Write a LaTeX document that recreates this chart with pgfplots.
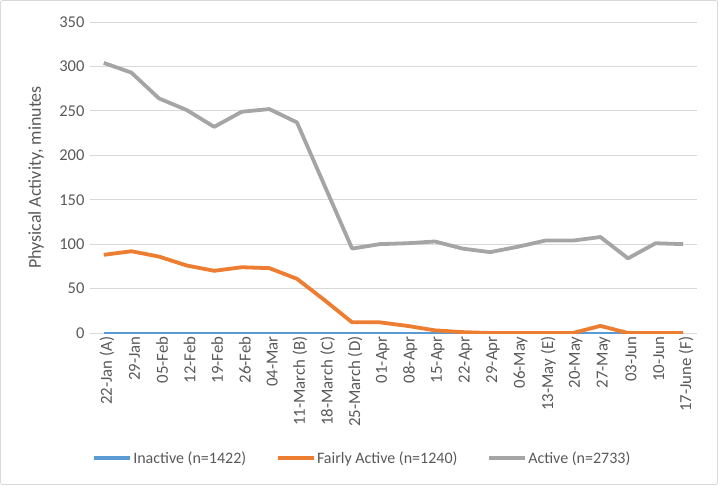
\documentclass[border=0pt]{standalone}
\usepackage{pgfplots}
\pgfplotsset{compat=1.18}
\usepackage{fontspec}
\setmainfont{Carlito}
\definecolor{xblue}{HTML}{5B9BD5}
\definecolor{xorange}{HTML}{ED7D31}
\definecolor{xgray}{HTML}{A5A5A5}
\definecolor{xtext}{HTML}{595959}
\definecolor{xgrid}{HTML}{D9D9D9}
\begin{document}
\begin{tikzpicture}
\path[use as bounding box] (0,0) rectangle (718pt,485pt);
\draw[draw=black!15, line width=0.8pt, rounded corners=2pt] (0.5pt,0.5pt) rectangle (717.5pt,484.5pt);
\begin{axis}[
  at={(90pt,152pt)}, anchor=south west,
  scale only axis, width=607pt, height=311pt,
  xmin=-0.5, xmax=21.5, ymin=0, ymax=350,
  ytick={0,50,...,350},
  xtick={0,...,21},
  xticklabels={22-Jan (A),29-Jan,05-Feb,12-Feb,19-Feb,26-Feb,04-Mar,11-March (B),18-March (C),25-March (D),01-Apr,08-Apr,15-Apr,22-Apr,29-Apr,06-May,13-May (E),20-May,27-May,03-Jun,10-Jun,17-June (F)},
  xticklabel style={rotate=90, anchor=east, font=\fontsize{16.8}{19}\selectfont, text=xtext, yshift=-3pt},
  yticklabel style={font=\fontsize{16.5}{19}\selectfont, text=xtext, xshift=-2pt},
  /pgf/number format/assume math mode=true,
  major tick length=0pt,
  axis line style={draw=none},
  ymajorgrids, major grid style={xgrid, line width=1pt},
  ylabel={Physical Activity, minutes},
  ylabel style={at={(axis description cs:-0.089,0.5)}, anchor=center, font=\fontsize{18}{20}\selectfont, text=xtext},
  legend columns=3,
  legend style={at={(axis description cs:0.448,-0.402)}, anchor=center, draw=none, fill=none,
    font=\fontsize{16}{19}\selectfont, text=xtext,
    /tikz/every even column/.append style={column sep=29pt},
    nodes={inner sep=1pt}},
  legend image code/.code={\draw[#1, line width=3.8pt] (0pt,0pt) -- (36pt,0pt);},
  every axis plot/.append style={line join=round},
]
\addplot[xblue, line width=2.5pt] coordinates {
(0,0)(1,0)(2,0)(3,0)(4,0)(5,0)(6,0)(7,0)(8,0)(9,0)(10,0)(11,0)(12,0)(13,0)(14,0)(15,0)(16,0)(17,0)(18,0)(19,0)(20,0)(21,0)};
\addlegendentry{Inactive (n=1422)}
\addplot[xorange, line width=3.8pt] coordinates {
(0,88)(1,92)(2,86)(3,76)(4,70)(5,74)(6,73)(7,61)(8,37)(9,12)(10,12)(11,8)(12,3)(13,1)(14,0)(15,0)(16,0)(17,0)(18,8)(19,0)(20,0)(21,0)};
\addlegendentry{Fairly Active (n=1240)}
\addplot[xgray, line width=3.8pt] coordinates {
(0,304)(1,293)(2,264)(3,251)(4,232)(5,249)(6,252)(7,237)(8,166)(9,95)(10,100)(11,101)(12,103)(13,95)(14,91)(15,97)(16,104)(17,104)(18,108)(19,84)(20,101)(21,100)};
\addlegendentry{Active (n=2733)}
\end{axis}
\end{tikzpicture}
\end{document}
